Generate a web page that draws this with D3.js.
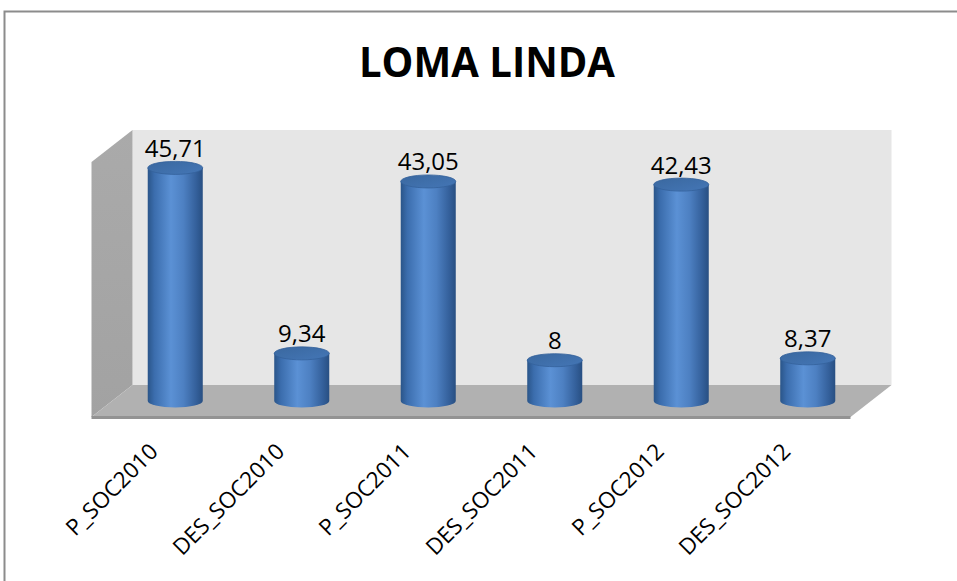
<!DOCTYPE html>
<html>
<head>
<meta charset="utf-8">
<script src="https://cdn.jsdelivr.net/npm/d3@7"></script>
<style>
  body { margin: 0; background: #fff; }
  text { font-family: "Open Sans", "Noto Sans", sans-serif; fill: #000; }
</style>
</head>
<body>
<svg width="957" height="581"></svg>
<script>
var categories = ["P_SOC2010", "DES_SOC2010", "P_SOC2011", "DES_SOC2011", "P_SOC2012", "DES_SOC2012"];
var values = [45.71, 9.34, 43.05, 8, 42.43, 8.37];
var valueLabels = ["45,71", "9,34", "43,05", "8", "42,43", "8,37"];
var title = "LOMA LINDA";
var yMax = 50;

var svg = d3.select("svg");

// depth of the 3d box (oblique projection)
var depth = { dx: 41, dy: -32 };

// bars sit at middle depth of the floor
var x = d3.scaleBand().domain(categories).range([112, 871]).paddingInner(0.565).paddingOuter(0.2825);
var y = d3.scaleLinear().domain([0, yMax]).range([401, 146]);

var defs = svg.append("defs");

var cyl = defs.append("linearGradient").attr("id", "cyl").attr("x1", "0").attr("x2", "1").attr("y1", "0").attr("y2", "0");
[["0%", "#2a5589"], ["12%", "#3b6dad"], ["42%", "#5b91d5"], ["65%", "#4d80c2"], ["88%", "#34609b"], ["100%", "#284f82"]]
    .forEach(function (s) { cyl.append("stop").attr("offset", s[0]).attr("stop-color", s[1]); });

var capG = defs.append("linearGradient").attr("id", "cap").attr("x1", "0").attr("x2", "1").attr("y1", "0").attr("y2", "1");
[["0%", "#3a689f"], ["100%", "#4476b6"]]
    .forEach(function (s) { capG.append("stop").attr("offset", s[0]).attr("stop-color", s[1]); });

var sideG = defs.append("linearGradient").attr("id", "side").attr("x1", "0").attr("x2", "0").attr("y1", "0").attr("y2", "1");
[["0%", "#aaaaaa"], ["100%", "#a2a2a2"]]
    .forEach(function (s) { sideG.append("stop").attr("offset", s[0]).attr("stop-color", s[1]); });

// chart border
svg.append("rect")
    .attr("x", 4.5).attr("y", 11.5)
    .attr("width", 970).attr("height", 600)
    .attr("fill", "none")
    .attr("stroke", "#8c8c8c")
    .attr("stroke-width", 2);

// title
svg.append("text")
    .attr("x", 487).attr("y", 77)
    .attr("text-anchor", "middle")
    .attr("font-size", 42)
    .attr("font-weight", "bold")
    .attr("textLength", 256)
    .attr("lengthAdjust", "spacingAndGlyphs")
    .text(title);

var r0 = x.range();
var halfX = depth.dx / 2, halfY = depth.dy / 2;
var frontL = r0[0] - halfX, frontR = r0[1] - halfX, baseFront = y(0) - halfY;
var backL = frontL + depth.dx, backR = frontR + depth.dx, baseBack = baseFront + depth.dy;
var wallTop = y(yMax) + halfY;

// back wall
svg.append("rect")
    .attr("x", backL).attr("y", wallTop)
    .attr("width", backR - backL).attr("height", baseBack - wallTop)
    .attr("fill", "#e6e6e6");

// side wall
svg.append("path")
    .attr("d", "M" + frontL + "," + baseFront + "L" + frontL + "," + (wallTop - depth.dy) +
        "L" + backL + "," + wallTop + "L" + backL + "," + baseBack + "Z")
    .attr("fill", "url(#side)");

// floor
svg.append("path")
    .attr("d", "M" + frontL + "," + baseFront + "L" + frontR + "," + baseFront +
        "L" + backR + "," + baseBack + "L" + backL + "," + baseBack + "Z")
    .attr("fill", "#b1b1b1");
svg.append("rect")
    .attr("x", frontL).attr("y", baseFront - 1)
    .attr("width", frontR - frontL).attr("height", 3)
    .attr("fill", "#939393");

// cylinders
var rx = x.bandwidth() / 2, ry = 6.5;
var bars = svg.selectAll(".bar")
    .data(values)
    .enter().append("g")
    .attr("class", "bar");

bars.append("path")
    .attr("d", function (d, i) {
        var cx = x(categories[i]) + rx, top = y(d), base = y(0);
        return "M" + (cx - rx) + "," + top + "L" + (cx - rx) + "," + base +
            "A" + rx + "," + ry + " 0 0 0 " + (cx + rx) + "," + base +
            "L" + (cx + rx) + "," + top + "Z";
    })
    .attr("fill", "url(#cyl)");

bars.append("ellipse")
    .attr("cx", function (d, i) { return x(categories[i]) + rx; })
    .attr("cy", function (d) { return y(d); })
    .attr("rx", rx).attr("ry", ry)
    .attr("fill", "url(#cap)")
    .attr("stroke", "#33619a")
    .attr("stroke-width", 0.8);

// value labels
svg.selectAll(".val")
    .data(values)
    .enter().append("text")
    .attr("class", "val")
    .attr("x", function (d, i) { return x(categories[i]) + rx; })
    .attr("y", function (d) { return y(d) - 11; })
    .attr("text-anchor", "middle")
    .attr("font-size", 24)
    .text(function (d, i) { return valueLabels[i]; });

// category labels, rotated
svg.selectAll(".cat")
    .data(categories)
    .enter().append("text")
    .attr("class", "cat")
    .attr("text-anchor", "end")
    .attr("font-size", 22.5)
    .attr("transform", function (d) {
        return "translate(" + (x(d) + rx - 16) + ",453) rotate(-45)";
    })
    .text(function (d) { return d; });
</script>
</body>
</html>
